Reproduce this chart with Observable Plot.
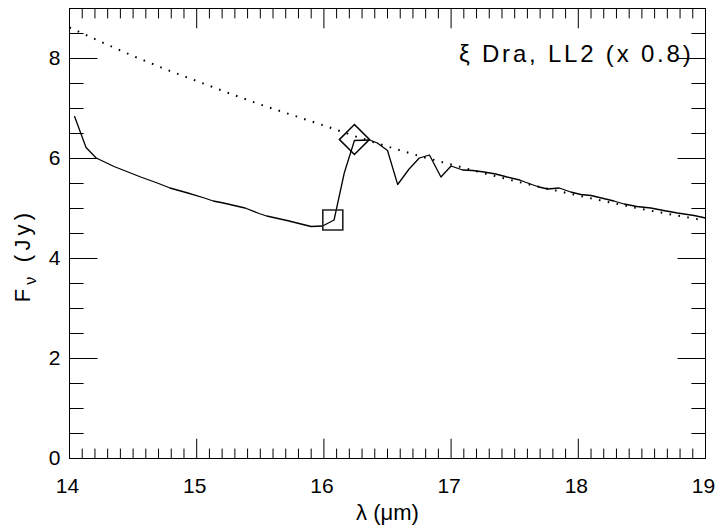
<!DOCTYPE html>
<html>
<head>
<meta charset="utf-8">
<script src="https://cdn.jsdelivr.net/npm/d3@7"></script>
<script src="https://cdn.jsdelivr.net/npm/@observablehq/plot@0.6"></script>
<style>
  body { margin: 0; background: #fff; }
  #chart svg { display: block; }
</style>
</head>
<body>
<div id="chart"></div>
<script>
// ---- data ----
const wavelength = [14.04, 14.13, 14.21, 14.35, 14.45, 14.56, 14.69, 14.79, 14.93, 15.06, 15.13, 15.21, 15.38, 15.49, 15.55, 15.71, 15.82, 15.90, 15.99, 16.08, 16.16, 16.24, 16.36, 16.42, 16.50, 16.58, 16.67, 16.75, 16.83, 16.92, 17.00, 17.09, 17.17, 17.26, 17.35, 17.44, 17.54, 17.58, 17.69, 17.76, 17.85, 17.94, 18.02, 18.10, 18.28, 18.36, 18.46, 18.57, 18.67, 18.78, 18.91, 19.00];
const flux       = [6.84, 6.22, 6.01, 5.84, 5.74, 5.63, 5.51, 5.41, 5.31, 5.21, 5.15, 5.11, 5.01, 4.90, 4.85, 4.76, 4.69, 4.64, 4.65, 4.77, 5.71, 6.36, 6.37, 6.31, 6.16, 5.48, 5.79, 6.01, 6.07, 5.63, 5.85, 5.77, 5.76, 5.73, 5.69, 5.63, 5.57, 5.53, 5.43, 5.39, 5.41, 5.33, 5.28, 5.26, 5.15, 5.09, 5.04, 5.01, 4.96, 4.91, 4.86, 4.81];

const modelWavelength = [14.0, 14.25, 14.5, 14.75, 15.0, 15.25, 15.5, 15.75, 16.0, 16.25, 16.5, 16.75, 17.0, 17.25, 17.5, 17.75, 18.0, 18.25, 18.5, 18.75, 19.0];
const modelFlux       = [8.62, 8.33, 8.05, 7.79, 7.55, 7.31, 7.08, 6.87, 6.66, 6.44, 6.24, 6.05, 5.88, 5.71, 5.55, 5.40, 5.26, 5.12, 4.99, 4.87, 4.76];

const squareX  = [16.07];
const squareY  = [4.77];
const diamondX = [16.24];
const diamondY = [6.38];

const xDomain = [14, 19];
const yDomain = [0, 9];
const xTickLabels = [14, 15, 16, 17, 18, 19];
const yTickLabels = [0, 2, 4, 6, 8];
const xMinorTicks = d3.range(0, 51).map(i => 14 + i / 10);
const yMinorTicks = d3.range(0, 19).map(i => i / 2);

const titleText = "ξ Dra, LL2 (x 0.8)";
const xLabelText = "λ (μm)";
const yLabelText = "Fν (Jy)";

// ---- tables ----
const spectrum = wavelength.map((w, i) => ({w, f: flux[i]}));
const model = modelWavelength.map((w, i) => ({w, f: modelFlux[i]}));
const squares = squareX.map((x, i) => ({x, y: squareY[i]}));
const diamonds = diamondX.map((x, i) => ({x, y: diamondY[i]}));

// inward tick shape
const tickShape = {draw(ctx, l) { ctx.moveTo(0, 0); ctx.lineTo(0, -l); }};
const tickStyle = {shape: tickShape, anchor: "start", stroke: "black", strokeWidth: 1, strokeLinecap: "butt"};

const isMajorX = d => Math.abs(d - Math.round(d)) < 1e-6;
const isMajorY = d => Math.abs(d / 2 - Math.round(d / 2)) < 1e-6;

const chart = Plot.plot({
  width: 716,
  height: 525,
  marginLeft: 69,
  marginRight: 11,
  marginTop: 8,
  marginBottom: 67,
  style: {fontFamily: "'Liberation Sans', Arial, sans-serif", fontSize: "21px", background: "white", color: "black"},
  x: {domain: xDomain},
  y: {domain: yDomain},
  marks: [
    // ticks (inward) on all four sides
    Plot.vector(xMinorTicks, {x: d => d, y: yDomain[0], rotate: 0, length: d => isMajorX(d) ? 9 : 4.5, ...tickStyle}),
    Plot.vector(xMinorTicks, {x: d => d, y: yDomain[1], rotate: 180, length: d => isMajorX(d) ? 9 : 4.5, ...tickStyle}),
    Plot.vector(yMinorTicks, {x: xDomain[0], y: d => d, rotate: 90, length: d => isMajorY(d) ? 12.7 : 6.4, ...tickStyle}),
    Plot.vector(yMinorTicks, {x: xDomain[1], y: d => d, rotate: 270, length: d => isMajorY(d) ? 12.7 : 6.4, ...tickStyle}),
    // tick labels
    Plot.axisX(xTickLabels, {tickSize: 0, tickPadding: 20, dx: -2, label: null, tickFormat: d => String(d)}),
    Plot.axisY(yTickLabels, {tickSize: 0, tickPadding: 9, label: null, tickFormat: d => String(d)}),
    // data
    Plot.line(model, {x: "w", y: "f", stroke: "black", strokeWidth: 2, strokeDasharray: "1.6,7.4", strokeLinecap: "butt"}),
    Plot.line(spectrum, {x: "w", y: "f", stroke: "black", strokeWidth: 1.3}),
    Plot.dot(squares, {x: "x", y: "y", symbol: "square", r: 11.28, stroke: "#222", strokeWidth: 1.6, fill: "none"}),
    Plot.dot(diamonds, {x: "x", y: "y", symbol: "diamond2", r: 13.5, stroke: "black", strokeWidth: 1.6, fill: "none"}),
    // frame
    Plot.frame({stroke: "black", strokeWidth: 1}),
    // texts
    Plot.text([titleText], {frameAnchor: "top-right", dx: -12, dy: 46, textAnchor: "end", lineAnchor: "middle", fontSize: 24, text: d => d}),
    Plot.text([xLabelText], {frameAnchor: "bottom", dy: 54, textAnchor: "middle", lineAnchor: "middle", fontSize: 22, text: d => d}),
    Plot.text([yLabelText], {frameAnchor: "left", dx: -47, dy: 22, rotate: -90, textAnchor: "middle", lineAnchor: "middle", fontSize: 22, text: d => d})
  ]
});

d3.select(chart).selectAll("text").each(function() {
  const t = d3.select(this);
  if (this.textContent === yLabelText) {
    // subscript ν in the y label
    t.text(null).attr("letter-spacing", 4.2);
    t.append("tspan").text("F");
    t.append("tspan").attr("dy", 6).attr("font-size", 16).text("ν");
    t.append("tspan").attr("dy", -6).text(" (Jy)");
  } else if (this.textContent === titleText) {
    t.attr("letter-spacing", 2.8);
  }
});

document.getElementById("chart").appendChild(chart);
</script>
</body>
</html>
